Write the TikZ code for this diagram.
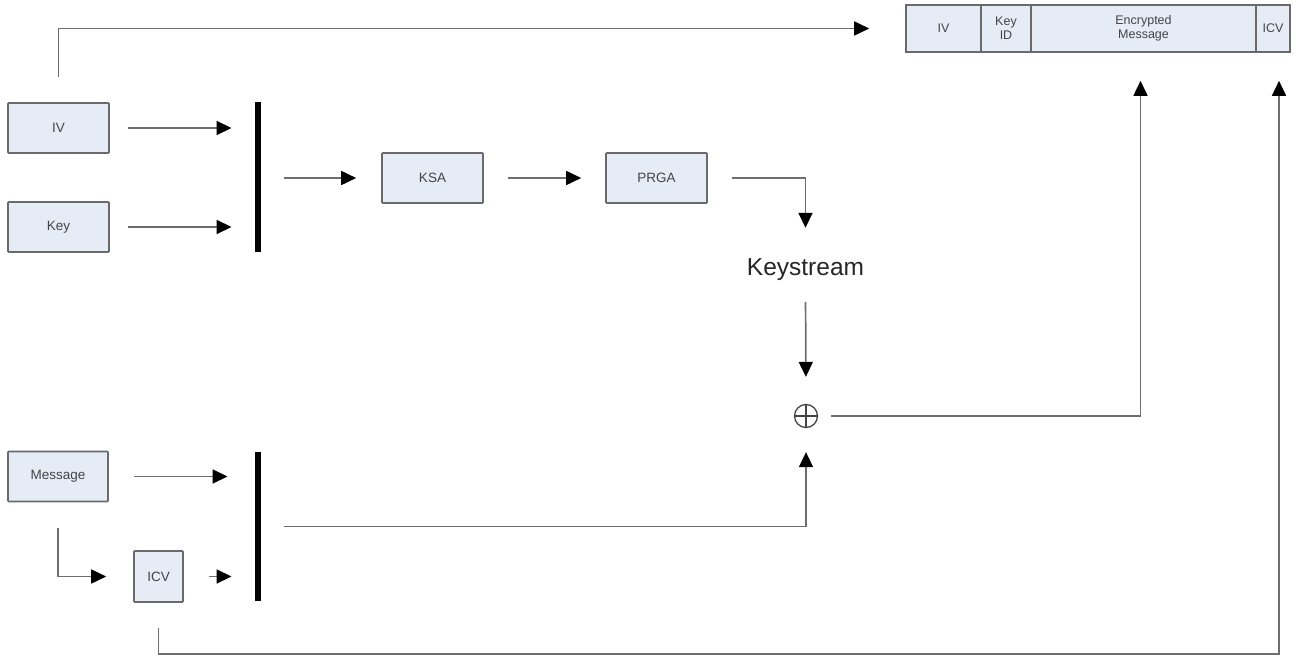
\documentclass[tikz,border=0pt]{standalone}
\usepackage{fontspec}
\setmainfont{Liberation Sans}
\usetikzlibrary{arrows.meta}
\definecolor{boxfill}{HTML}{E6ECF6}
\definecolor{boxline}{HTML}{6A6A6A}
\definecolor{wire}{HTML}{6E6E6E}
\definecolor{label}{HTML}{444444}
\begin{document}
\begin{tikzpicture}[x=1pt,y=-1pt,
  blockbox/.style={draw=boxline,fill=boxfill,line width=1.6pt,rounded corners=0.8pt,
    inner sep=0pt,font=\fontsize{13.5}{15}\selectfont,text=label,align=center},
  fieldbox/.style={draw=boxline,fill=boxfill,line width=1.6pt,inner sep=0pt,
    minimum height=47,font=\fontsize{12.5}{14}\selectfont,text=label,align=center},
  joinbar/.style={fill=black,draw=none,minimum width=5.5,minimum height=150,inner sep=0pt},
  wirearrow/.style={draw=wire,line width=1.7pt,
    -{Triangle[length=15pt,width=14pt,color=black]}},
  xorsym/.style={circle,draw=label,line width=1.3pt,minimum size=23,inner sep=0pt,
    path picture={\draw[label,line width=1.3pt]
      (path picture bounding box.north) -- (path picture bounding box.south)
      (path picture bounding box.west) -- (path picture bounding box.east);}}]
\useasboundingbox (0,0) rectangle (1314,660);

% input blocks
\node[blockbox,minimum width=101,minimum height=50] (iv)  at (58.5,128) {IV};
\node[blockbox,minimum width=101,minimum height=50] (key) at (58.5,227) {Key};
\node[blockbox,minimum width=100,minimum height=50] (msg) at (58,476.5) {Message};
\node[blockbox,minimum width=49,minimum height=51] (icv) at (158.5,576.5) {ICV};

% concatenation bars
\node[joinbar] (bar1) at (258,177.5) {};
\node[joinbar,minimum height=149] (bar2) at (258,526.5) {};

% RC4 stages
\node[blockbox,minimum width=101,minimum height=50] (ksa)  at (432.5,178) {KSA};
\node[blockbox,minimum width=101,minimum height=50] (prga) at (656.5,178) {PRGA};
\node[inner sep=0pt,minimum height=40,font=\fontsize{24.5}{28}\selectfont,text=black!85] (ks) at (805.5,270) {Keystream};
\node[xorsym] (xor) at (806,416) {};

% output frame
\node[fieldbox,minimum width=75]  (pIV)  at (943.5,28.5) {IV};
\node[fieldbox,minimum width=50]  (pKey) at (1006,28.5) {Key\\ID};
\node[fieldbox,minimum width=225] (pMsg) at (1143.5,28.5) {Encrypted\\Message};
\node[fieldbox,minimum width=34]  (pICV) at (1273,28.5) {ICV};
\coordinate (msgin) at ([xshift=-3]pMsg.south);
\coordinate (icvin) at ([xshift=6]pICV.south);

% key schedule path
\draw[wirearrow,shorten <=18pt,shorten >=23.5pt] (iv.east) -- (iv.east -| bar1.west);
\draw[wirearrow,shorten <=18pt,shorten >=23.5pt] (key.east) -- (key.east -| bar1.west);
\draw[wirearrow,shorten <=23.5pt,shorten >=25pt] (bar1.east |- ksa.west) -- (ksa.west);
\draw[wirearrow,shorten <=24pt,shorten >=24pt] (ksa.east) -- (prga.west);
\draw[wirearrow,shorten <=24pt,shorten >=22pt] (prga.east) -| (ks.north);
\draw[wirearrow,shorten <=12pt,shorten >=27pt] (ks.south) -- (xor.north);
\draw[wirearrow,shorten <=13pt,shorten >=28pt] (xor.east) -| (msgin);

% plaintext path
\draw[wirearrow,shorten <=25pt,shorten >=27.5pt] (msg.east) -- (msg.east -| bar2.west);
\draw[wirearrow,shorten <=26pt,shorten >=27pt] (msg.south) |- (icv.west);
\draw[wirearrow,shorten <=25pt,shorten >=23.5pt] (icv.east) -- (icv.east -| bar2.west);
\draw[wirearrow,shorten <=23.5pt,shorten >=24pt] (bar2.east) -| (xor.south);

% fields copied into the frame
\draw[wirearrow,shorten <=25pt,shorten >=36pt] (iv.north) |- (pIV.west);
\draw[wirearrow,shorten <=25pt,shorten >=28pt] (icv.south) -- ++(0,51) -| (icvin);
\end{tikzpicture}
\end{document}
